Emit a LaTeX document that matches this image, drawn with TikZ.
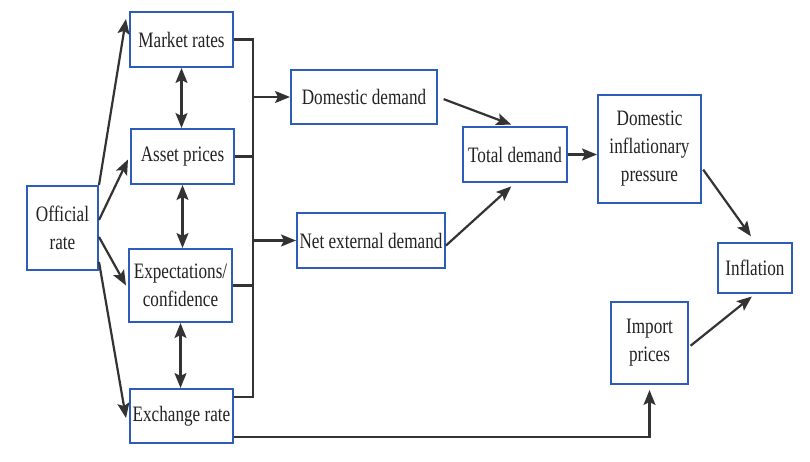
\documentclass[tikz,border=0pt]{standalone}
\usepackage{fontspec}
\setmainfont{Liberation Serif}[FakeStretch=0.78]
\usetikzlibrary{arrows.meta}
\definecolor{boxblue}{HTML}{2C5DBA}
\definecolor{linkgray}{HTML}{333333}
\definecolor{inkgray}{HTML}{222222}

\begin{document}
\begin{tikzpicture}[x=1pt,y=-1pt,
  box/.style={draw=boxblue,line width=2pt,fill=white,inner sep=0pt,align=center,
    text=inkgray,font=\fontsize{22}{28}\selectfont},
  link/.style={draw=linkgray,line width=2.2pt},
  arr/.style={link,-{Stealth[length=15pt,width=12pt,inset=3pt]}},
  dbl/.style={link,{Stealth[length=15pt,width=12pt,inset=3pt]}-{Stealth[length=15pt,width=12pt,inset=3pt]}}]
  \useasboundingbox (0,0) rectangle (810,462);
  \node[box,minimum width=71pt,minimum height=84pt] (offic) at (62.5,228) {Official\\rate};
  \node[box,minimum width=103pt,minimum height=55pt] (mkt) at (181.5,39.5) {Market rates};
  \node[box,minimum width=103pt,minimum height=55pt] (asset) at (182.5,156.5) {Asset prices};
  \node[box,minimum width=103pt,minimum height=73pt] (expect) at (180.5,285.5) {Expectations/\\confidence};
  \node[box,minimum width=103pt,minimum height=54pt] (exch) at (181.5,416) {Exchange rate};
  \node[box,minimum width=146pt,minimum height=54pt] (dom) at (364,97) {Domestic demand};
  \node[box,minimum width=148pt,minimum height=55pt] (netx) at (371,240.5) {Net external demand};
  \node[box,minimum width=104pt,minimum height=55pt] (total) at (515,154.5) {Total demand};
  \node[box,minimum width=103pt,minimum height=108pt] (dip) at (649.5,149) {Domestic\\inflationary\\pressure};
  \node[box,minimum width=74pt,minimum height=50pt] (infl) at (755,268) {Inflation};
  \node[box,minimum width=77pt,minimum height=82pt] (imp) at (649.5,343) {Import\\prices};
  \coordinate (bus) at (253,397);
  \coordinate (low) at (649,437);

  % official rate fans out
  \draw[arr] (offic.north east) -- ([xshift=-3pt,yshift=-8pt]mkt.north west);
  \draw[arr] ([yshift=8pt]offic.east) -- ([xshift=-2pt,yshift=-3pt]asset.west);
  \draw[arr] ([yshift=-9pt]offic.east) -- ([xshift=-2pt]expect.west);
  \draw[arr] ([yshift=-34pt]offic.east) -- ([xshift=-3pt,yshift=-2pt]exch.west);
  \draw[dbl] (mkt.south) -- (mkt.south |- asset.north);
  \draw[dbl] (asset.south) -- (asset.south |- expect.north);
  \draw[dbl] (expect.south) -- (expect.south |- exch.north);

  % collecting line
  \draw[link] (mkt.east) -| (bus) -- (exch.east |- bus);
  \draw[link] (asset.east) -- (asset.east -| bus);
  \draw[link] (expect.east) -- (expect.east -| bus);
  \draw[arr] (dom.west -| bus) -- (dom.west);
  \draw[arr] (netx.west -| bus) -- (netx.west);

  \draw[arr,shorten <=6pt,shorten >=4pt] (dom.east) -- (total.north);
  \draw[arr,shorten >=5pt] ([yshift=-5pt]netx.east) -- (total.south);
  \draw[arr] (total.east) -- (total.east -| dip.west);
  \draw[arr,shorten <=2pt,shorten >=7pt] ([yshift=-19pt]dip.east) -- (infl.north);
  \draw[arr,shorten <=2pt,shorten >=4pt] ([yshift=-4pt]imp.east) -- (infl.south);
  \draw[arr,shorten >=5pt] (exch.east |- low) -| (imp.south);
\end{tikzpicture}
\end{document}
